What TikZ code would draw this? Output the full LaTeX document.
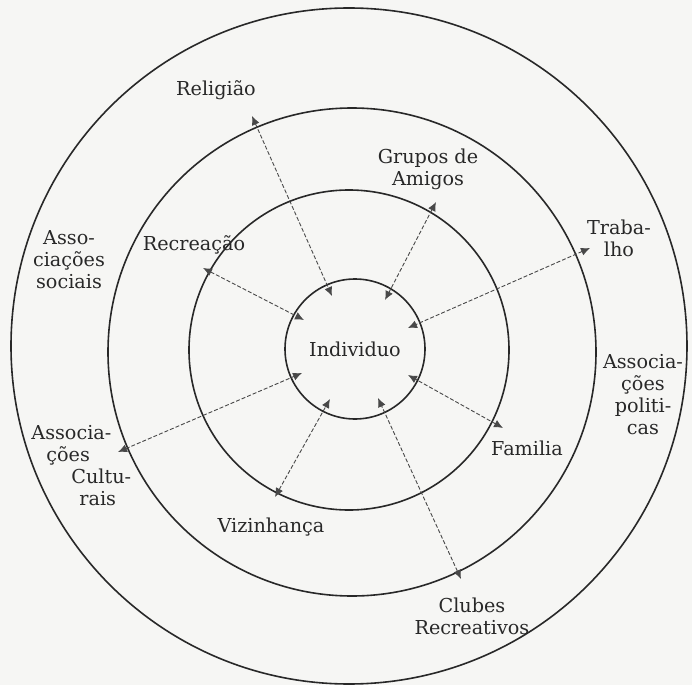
\documentclass[tikz,border=0pt]{standalone}
\usepackage{fontspec}
\setmainfont{DejaVu Serif}
\usepackage{xcolor}
\definecolor{ink}{RGB}{40,40,40}
\definecolor{paper}{RGB}{246,246,244}
\usetikzlibrary{arrows.meta}
\tikzset{
  ring/.style={circle,draw=ink,line width=0.8pt,inner sep=0pt},
  lbl/.style={align=center,text=ink,
    font=\fontsize{9.6}{11}\selectfont,inner sep=1pt},
  link/.style={{Latex[length=4.5pt,width=4pt]}-{Latex[length=4.5pt,width=4pt]},
    draw=ink!85,line width=0.45pt,dash pattern=on 2pt off 1pt},
}

\begin{document}
\begin{tikzpicture}[x=0.5pt,y=-0.5pt]
  \fill[paper] (0,0) rectangle (692,685);
  \useasboundingbox (0,0) rectangle (692,685);
  % circulos
  \node (outer) [ring,minimum size=338pt] at (349,346) {};
  \node (mid)   [ring,minimum size=244pt] at (352,352) {};
  \node (near)  [ring,minimum size=160pt] at (349,350) {};
  \node (ind)   [ring,lbl,minimum size=70pt] at (355,349) {Individuo};
  % pontas das setas
  \coordinate (relO) at (252,116); \coordinate (relI) at (332,296);
  \coordinate (gruO) at (436,202); \coordinate (gruI) at (385,300);
  \coordinate (traO) at (590,248); \coordinate (traI) at (408,328);
  \coordinate (recO) at (203,268); \coordinate (recI) at (304,320);
  \coordinate (culO) at (118,452); \coordinate (culI) at (302,373);
  \coordinate (vizO) at (275,497); \coordinate (vizI) at (330,399);
  \coordinate (cluO) at (461,579); \coordinate (cluI) at (378,398);
  \coordinate (famO) at (503,428); \coordinate (famI) at (408,375);
  % textos
  \node (rel) [lbl] at (216,90)  {Religião};
  \node (gru) [lbl] at (428,169) {Grupos de\\Amigos};
  \node (tra) [lbl] at (619,238) {Traba-\\lho};
  \node (rec) [lbl] at (194,245) {Recreação};
  \node (soc) [lbl] at (69,260)  {Asso-\\ciações\\sociais};
  \node (pol) [lbl] at (643,395) {Associa-\\ções\\politi-\\cas};
  \node (fam) [lbl] at (527,448) {Familia};
  \node (cul) [lbl,align=left,anchor=west] at (29,466)
    {Associa-\\\hspace*{7.5pt}ções\\\hspace*{20pt}Cultu-\\\hspace*{24pt}rais};
  \node (viz) [lbl] at (271,527) {Vizinhança};
  \node (clu) [lbl] at (472,616) {Clubes\\Recreativos};
  % ligacoes
  \draw[link] (relO) -- (relI);
  \draw[link] (gruO) -- (gruI);
  \draw[link] (traO) -- (traI);
  \draw[link] (recO) -- (recI);
  \draw[link] (culO) -- (culI);
  \draw[link] (vizO) -- (vizI);
  \draw[link] (cluO) -- (cluI);
  \draw[link] (famO) -- (famI);
\end{tikzpicture}
\end{document}
